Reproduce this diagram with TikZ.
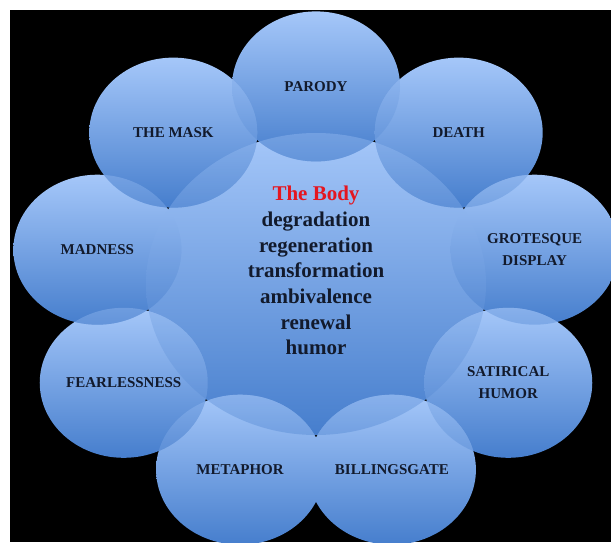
\documentclass[tikz,border=0pt]{standalone}
\usepackage{fontspec}
\setmainfont{Liberation Serif}
\usetikzlibrary{calc}

\definecolor{bubbleTop}{RGB}{165,199,249}
\definecolor{bubbleBot}{RGB}{70,126,205}
\definecolor{ink}{RGB}{18,26,44}
\definecolor{bodyred}{RGB}{228,22,32}

\tikzset{
  bubble/.style={top color=bubbleTop, bottom color=bubbleBot, draw=none},
  lens/.style={bubble, opacity=0.35},
  tag/.style={font=\fontsize{15}{22}\selectfont\bfseries, text=ink,
              align=center, inner sep=0pt},
  hubtext/.style={font=\fontsize{21}{25.7}\selectfont\bfseries, text=ink,
              align=center, inner sep=0pt},
}

\begin{document}
\begin{tikzpicture}[x=1pt,y=-1pt]
\useasboundingbox (0,0) rectangle (611,542);
\fill[black] (10,10) rectangle (611,542);

\begin{scope}
\clip (10,10) rectangle (611,542);

% centre of the ring and the nine petal centres, 40 degrees apart
\coordinate (hub) at (316,284);
\foreach \n/\a in {p1/90,p2/50,p3/10,p4/-30,p5/-70,p6/-110,p7/-150,p8/170,p9/130}
  \coordinate (\n) at ({316+222*cos(\a)},{284-197.6*sin(\a)});

% large central bubble
\shade[bubble] (hub) ellipse [x radius=170, y radius=151];

% petals
\foreach \n in {p1,p2,p3,p4,p5,p6,p7,p8,p9}
  \shade[bubble] (\n) ellipse [x radius=84, y radius=75];

% see-through overlaps: petal over the central bubble
\foreach \n in {p1,p2,p3,p4,p5,p6,p7,p8,p9}{
  \begin{scope}
    \clip (\n) ellipse [x radius=84, y radius=75];
    \shade[lens] (hub) ellipse [x radius=170, y radius=151];
  \end{scope}
}
% see-through overlaps: petal over its neighbour
\foreach \n/\m in {p2/p1,p3/p2,p4/p3,p5/p4,p6/p5,p7/p6,p8/p7,p9/p8,p9/p1}{
  \begin{scope}
    \clip (\n) ellipse [x radius=84, y radius=75];
    \shade[lens] (\m) ellipse [x radius=84, y radius=75];
  \end{scope}
}
\end{scope}

% labels
\node[tag] (parody)  at (p1) {PARODY};
\node[tag] (death)   at (p2) {DEATH};
\node[tag] (grot)    at (p3) {GROTESQUE\\DISPLAY};
\node[tag] (satire)  at (p4) {SATIRICAL\\HUMOR};
\node[tag] (billing) at (p5) {BILLINGSGATE};
\node[tag] (metaph)  at (p6) {METAPHOR};
\node[tag] (fear)    at (p7) {FEARLESSNESS};
\node[tag] (madness) at (p8) {MADNESS};
\node[tag] (mask)    at (p9) {THE MASK};

\node[hubtext] (body) at (316,270.7)
  {\textcolor{bodyred}{The Body}\\degradation\\regeneration\\transformation\\ambivalence\\renewal\\humor};
\end{tikzpicture}
\end{document}
